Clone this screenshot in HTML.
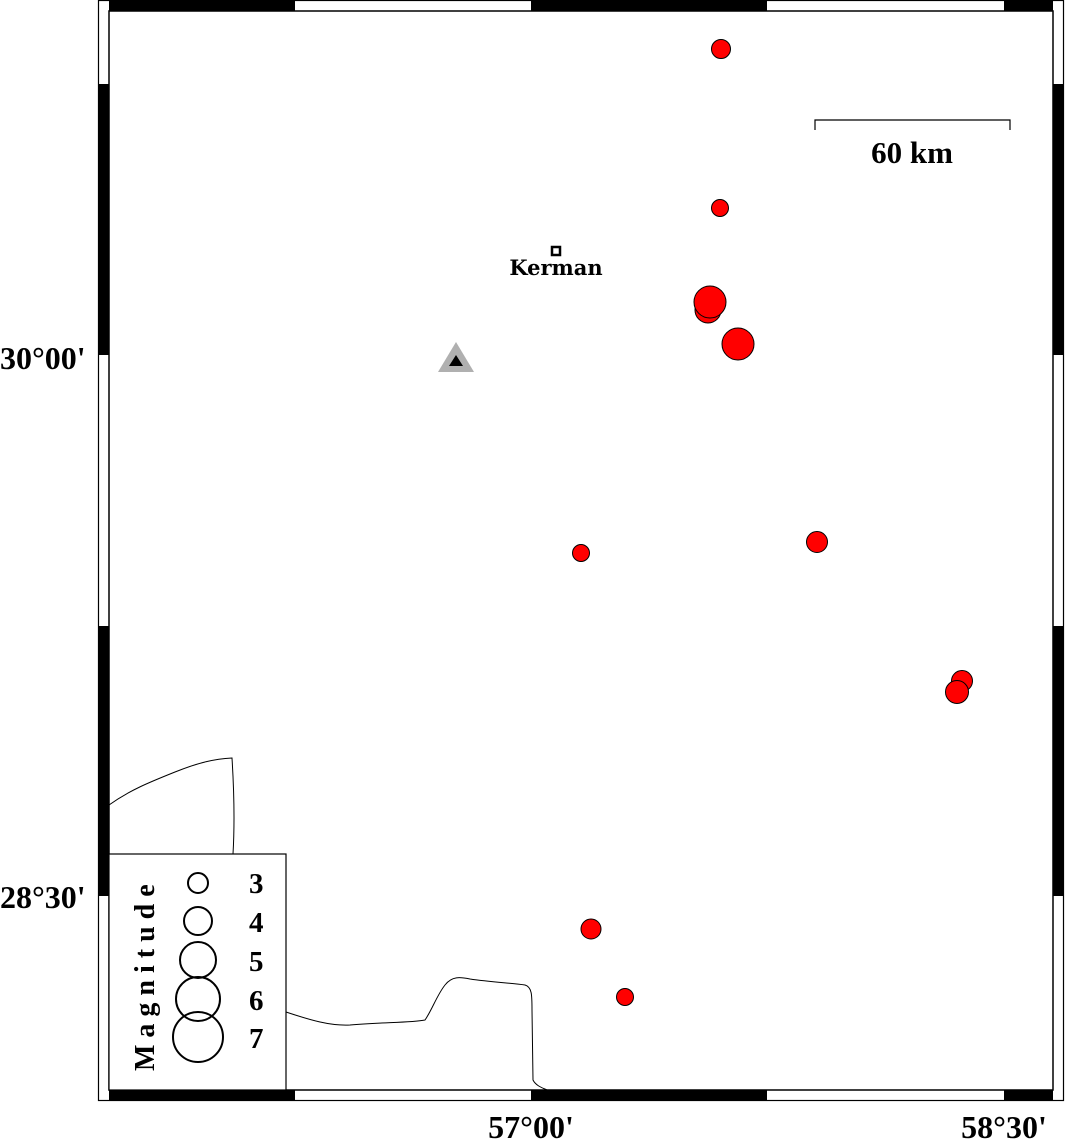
<!DOCTYPE html>
<html><head><meta charset="utf-8"><style>
html,body{margin:0;padding:0;background:#fff;}
svg{display:block;}
text{font-family:"Liberation Serif",serif;font-weight:bold;}
</style></head><body>
<svg width="1066" height="1139" viewBox="0 0 1066 1139" xmlns="http://www.w3.org/2000/svg">
<rect x="0" y="0" width="1066" height="1139" fill="#fff"/>
<rect x="98.5" y="0.5" width="965" height="1100" fill="none" stroke="#000" stroke-width="1.2"/>
<rect x="109" y="11" width="944" height="1079" fill="none" stroke="#000" stroke-width="1.5"/>
<g fill="#000">
<rect x="109" y="0" width="186" height="11"/>
<rect x="531" y="0" width="236" height="11"/>
<rect x="1004" y="0" width="49" height="11"/>
<rect x="109" y="1090" width="186" height="11"/>
<rect x="531" y="1090" width="236" height="11"/>
<rect x="1004" y="1090" width="49" height="11"/>
<rect x="98" y="84" width="11" height="271"/>
<rect x="98" y="626" width="11" height="270"/>
<rect x="1053" y="84" width="11" height="271"/>
<rect x="1053" y="626" width="11" height="270"/>
</g>
<path d="M109,805 C130,790 150,782 175,772 C200,762 215,759 232,758 C234,790 235,820 233,854" fill="none" stroke="#000" stroke-width="1"/>
<path d="M286,1012 C310,1020 330,1026 350,1025 C380,1022 410,1023 425,1020 C432,1010 437,995 445,985 C452,976 460,977 470,979 C490,982 510,983 525,985 C532,987 532,995 532,1010 L533,1080 C536,1086 543,1088 547,1090" fill="none" stroke="#000" stroke-width="1"/>
<rect x="109" y="854" width="177" height="236" fill="#fff" stroke="#000" stroke-width="1.2"/>
<g fill="none" stroke="#000" stroke-width="2">
<circle cx="198" cy="883" r="10"/>
<circle cx="198" cy="921" r="14"/>
<circle cx="198" cy="960" r="18"/>
<circle cx="198" cy="999" r="22"/>
<circle cx="198" cy="1037" r="25"/>
</g>
<g font-size="29">
<text x="249" y="893">3</text>
<text x="249" y="932">4</text>
<text x="249" y="971">5</text>
<text x="249" y="1010">6</text>
<text x="249" y="1048">7</text>
</g>
<text transform="translate(154,1071) rotate(-90)" font-size="28" letter-spacing="7">Magnitude</text>
<path d="M815,130 L815,120 L1010,120 L1010,130" fill="none" stroke="#000" stroke-width="1.2"/>
<text x="912" y="163" font-size="31" text-anchor="middle">60 km</text>
<rect x="552" y="247" width="8" height="8" fill="#fff" stroke="#000" stroke-width="2.5"/>
<text x="556" y="275" font-size="21" text-anchor="middle" style="font-family:'DejaVu Serif',serif;font-weight:bold">Kerman</text>
<polygon points="438,372 456,342 474,372" fill="#b0b0b0"/>
<polygon points="449,366 456,355 463,366" fill="#000"/>
<g fill="#ff0000" stroke="#000" stroke-width="1">
<circle cx="721" cy="49" r="9.5"/>
<circle cx="720" cy="208" r="8.5"/>
<circle cx="708" cy="310" r="13"/>
<circle cx="710" cy="302" r="16"/>
<circle cx="738" cy="344" r="16"/>
<circle cx="581" cy="553" r="8.5"/>
<circle cx="817" cy="542" r="10.5"/>
<circle cx="962" cy="681" r="10.5"/>
<circle cx="957" cy="692" r="11.5"/>
<circle cx="591" cy="929" r="10"/>
<circle cx="625" cy="997" r="8.5"/>
</g>
<g font-size="32">
<text x="0" y="369">30°00'</text>
<text x="0" y="908">28°30'</text>
<text x="531" y="1138" text-anchor="middle">57°00'</text>
<text x="1004" y="1138" text-anchor="middle">58°30'</text>
</g>
</svg>
</body></html>
